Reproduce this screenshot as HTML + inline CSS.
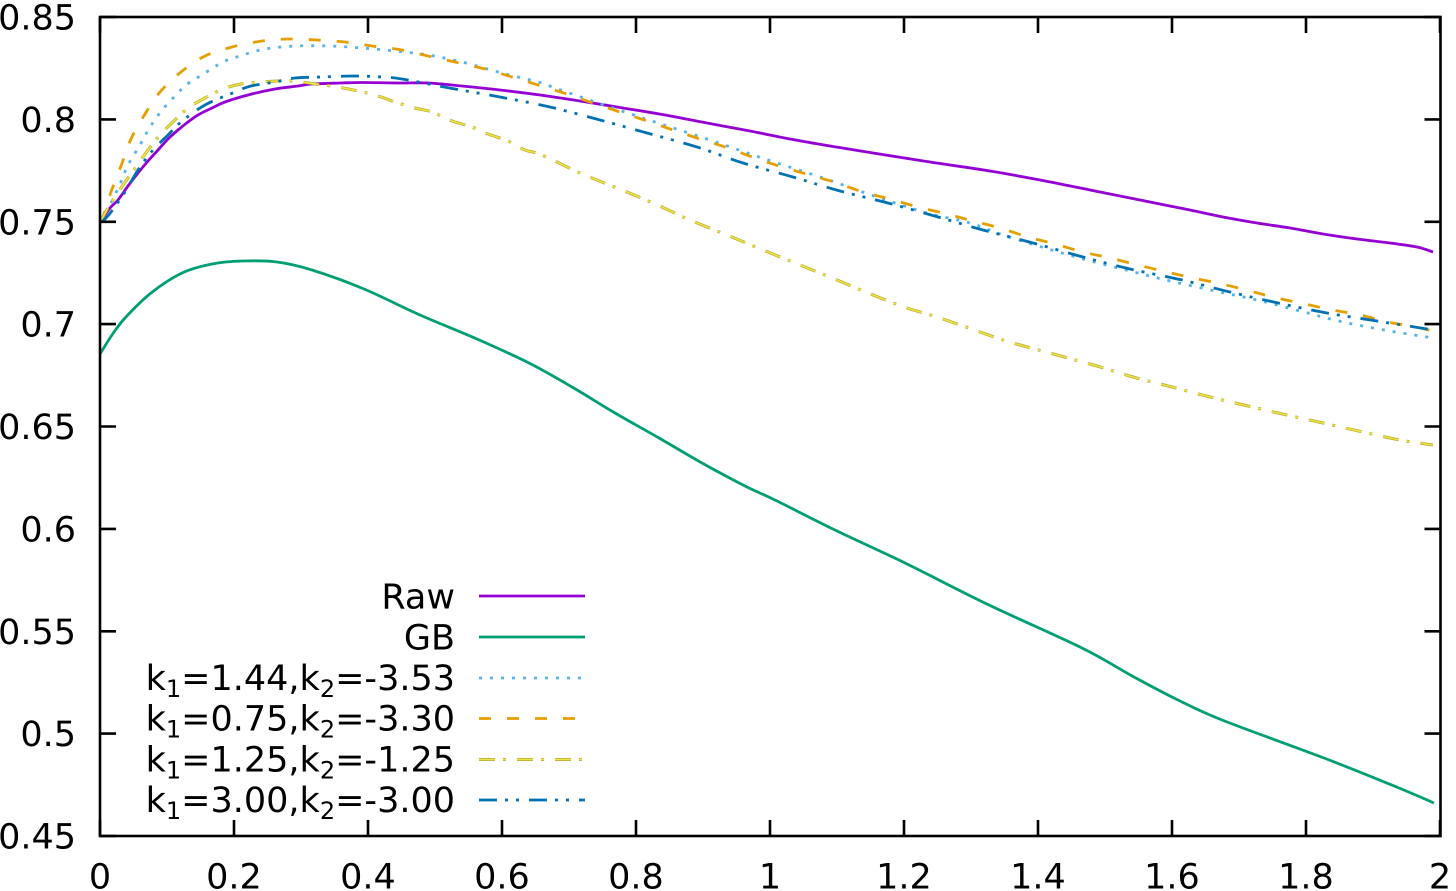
<!DOCTYPE html>
<html><head><meta charset="utf-8"><style>
html,body{margin:0;padding:0;background:#fff;}
svg{display:block;}
text{font-family:"DejaVu Sans","Liberation Sans",sans-serif;fill:#000;}
</style></head><body>
<svg id="chart" width="1456" height="891" viewBox="0 0 1456 891" xmlns="http://www.w3.org/2000/svg">
<rect width="1456" height="891" fill="#fff"/>
<g fill="none" stroke-linejoin="round">
<!-- GB -->
<polyline class="sm" stroke="#009e73" stroke-width="2.8" points="100,354 112,335 125,318 151,293 182,273 212,264 242,261 277,262 312,270 364,289 420,315 477,339 529,363 572,387 615,413 659,438 702,463 745,486 775,500 835,530 905,563 989,605 1082,648 1134,677 1178,700 1222,720 1324,758 1399,788 1434,803"/>
<!-- Raw -->
<polyline class="sm" stroke="#9400d3" stroke-width="2.8" points="100,222 110,208 118,200 128,186 138,173 148,161 158,150 168,139 178,130 188,122 198,115 212,108 225,102 248,95 275,89 298,86 312,84 340,83 362,82.5 400,83 428,83 462,86 500,90 540,95 580,101 623,108 665,115 707,123 750,131 790,139 830,146 873,153 930,162 990,171 1040,180 1090,190 1140,200 1190,210 1223,217 1257,223 1290,228 1323,234 1357,239 1390,243 1417,247 1433,252"/>
<!-- k1=1.44 sky dotted -->
<polyline class="sm" stroke="#56b4e9" stroke-width="2.8" stroke-dasharray="3 8" points="100,222 105,213 111,203 120,184 128,165 140,145 150,127 163,109 178,93 186,85 205,73 223,62 240,56 265,49 297,46 330,46 362,48 395,51 428,55 462,62 502,73 542,83 555,88 607,106 658,123 710,140 762,158 823,178 877,197 927,213 970,223 1003,235 1045,248 1087,260 1130,271 1170,281 1215,291 1257,300 1300,311 1343,322 1390,331 1433,338"/>
<!-- k1=0.75 orange dashed -->
<polyline class="sm" stroke="#e69f00" stroke-width="2.8" stroke-dasharray="12 16" points="100,222 103,217 111,192 121,166 131,139 145,114 160,92 181,72 205,56 232,47 262,41 288,39 317,40 345,42 372,46 402,50 428,56 455,62 485,69 512,77 538,85 567,94 593,103 620,112 647,121 673,130 700,139 728,148 755,158 782,167 810,175 837,183 863,192 890,199 918,207 947,214 973,221 1000,228 1028,237 1055,244 1083,252 1110,258 1138,265 1167,272 1193,278 1222,284 1250,291 1277,298 1305,304 1333,310 1360,315 1388,322 1415,327 1433,331"/>
<!-- k1=1.25 yellow dash-dot -->
<polyline class="sm" stroke="#b5a835" stroke-width="3" stroke-dasharray="16 8 3 11" points="100,222 111,203 123,185 136,167 148,150 160,135 173,122 188,108 205,98 223,89 241,84 260,82 278,81 295,81 315,84 338,87 358,91 378,96 395,102 415,108 432,112 452,121 472,127 488,134 508,141 525,150 542,155 580,173 617,188 653,203 690,220 727,235 763,250 800,265 837,280 873,295 907,308 940,318 1000,339 1020,345 1057,355 1097,366 1133,377 1172,387 1210,397 1248,406 1287,415 1323,423 1363,432 1400,440 1433,445"/>
<polyline class="sm" stroke="#f0e442" stroke-width="1.6" stroke-dasharray="16 8 3 11" points="100,222 111,203 123,185 136,167 148,150 160,135 173,122 188,108 205,98 223,89 241,84 260,82 278,81 295,81 315,84 338,87 358,91 378,96 395,102 415,108 432,112 452,121 472,127 488,134 508,141 525,150 542,155 580,173 617,188 653,203 690,220 727,235 763,250 800,265 837,280 873,295 907,308 940,318 1000,339 1020,345 1057,355 1097,366 1133,377 1172,387 1210,397 1248,406 1287,415 1323,423 1363,432 1400,440 1433,445"/>
<!-- k1=3.00 blue dash-dot-dot -->
<polyline class="sm" stroke="#0072b2" stroke-width="2.8" stroke-dasharray="18 8 3 8 3 10" points="100,222 103,221 111,212 125,192 138,170 153,150 168,135 181,122 205,105 235,92 251,86 275,82 295,78 322,77 352,76 382,77 402,79 455,89 500,97 550,107 600,120 647,133 697,147 743,163 793,177 840,191 888,203 938,217 983,230 1033,243 1083,257 1130,269 1182,280 1230,292 1278,303 1327,313 1377,321 1433,330"/>
</g>
<!-- border & ticks -->
<g stroke="#000" stroke-width="2.6" fill="none">
<rect x="100" y="17" width="1340.5" height="819"/>
<path d="M100,17h16M100,119.4h16M100,221.8h16M100,324.1h16M100,426.5h16M100,528.9h16M100,631.3h16M100,733.6h16M100,836h16
M1440.5,17h-16M1440.5,119.4h-16M1440.5,221.8h-16M1440.5,324.1h-16M1440.5,426.5h-16M1440.5,528.9h-16M1440.5,631.3h-16M1440.5,733.6h-16M1440.5,836h-16
M100,836v-16M234,836v-16M368,836v-16M502,836v-16M636,836v-16M770,836v-16M904,836v-16M1038,836v-16M1172,836v-16M1306,836v-16M1440,836v-16
M100,17v16M234,17v16M368,17v16M502,17v16M636,17v16M770,17v16M904,17v16M1038,17v16M1172,17v16M1306,17v16M1440,17v16"/>
</g>
<g font-size="35" text-anchor="end">
<text x="76" y="29.5">0.85</text>
<text x="76" y="131.9">0.8</text>
<text x="76" y="234.3">0.75</text>
<text x="76" y="336.6">0.7</text>
<text x="76" y="439">0.65</text>
<text x="76" y="541.4">0.6</text>
<text x="76" y="643.8">0.55</text>
<text x="76" y="746.1">0.5</text>
<text x="76" y="848.5">0.45</text>
</g>
<g font-size="35" text-anchor="middle">
<text x="100" y="888.5">0</text>
<text x="234" y="888.5">0.2</text>
<text x="368" y="888.5">0.4</text>
<text x="502" y="888.5">0.6</text>
<text x="636" y="888.5">0.8</text>
<text x="770" y="888.5">1</text>
<text x="904" y="888.5">1.2</text>
<text x="1038" y="888.5">1.4</text>
<text x="1172" y="888.5">1.6</text>
<text x="1306" y="888.5">1.8</text>
<text x="1440" y="888.5">2</text>
</g>
<!-- legend -->
<g font-size="35" text-anchor="end">
<text x="455" y="608.5">Raw</text>
<text x="455" y="649.5">GB</text>
<text x="455" y="690">k<tspan font-size="24" dy="7">1</tspan><tspan dy="-7">=1.44,k</tspan><tspan font-size="24" dy="7">2</tspan><tspan dy="-7">=-3.53</tspan></text>
<text x="455" y="730.5">k<tspan font-size="24" dy="7">1</tspan><tspan dy="-7">=0.75,k</tspan><tspan font-size="24" dy="7">2</tspan><tspan dy="-7">=-3.30</tspan></text>
<text x="455" y="771.5">k<tspan font-size="24" dy="7">1</tspan><tspan dy="-7">=1.25,k</tspan><tspan font-size="24" dy="7">2</tspan><tspan dy="-7">=-1.25</tspan></text>
<text x="455" y="812">k<tspan font-size="24" dy="7">1</tspan><tspan dy="-7">=3.00,k</tspan><tspan font-size="24" dy="7">2</tspan><tspan dy="-7">=-3.00</tspan></text>
</g>
<g fill="none">
<line x1="479" y1="596" x2="585" y2="596" stroke="#9400d3" stroke-width="2.8"/>
<line x1="479" y1="637" x2="585" y2="637" stroke="#009e73" stroke-width="2.8"/>
<line x1="479" y1="678" x2="585" y2="678" stroke="#56b4e9" stroke-width="2.8" stroke-dasharray="3 8"/>
<line x1="479" y1="718.5" x2="585" y2="718.5" stroke="#e69f00" stroke-width="2.8" stroke-dasharray="12 16"/>
<line x1="479" y1="759.5" x2="585" y2="759.5" stroke="#b5a835" stroke-width="3" stroke-dasharray="16 8 3 11"/>
<line x1="479" y1="759.5" x2="585" y2="759.5" stroke="#f0e442" stroke-width="1.6" stroke-dasharray="16 8 3 11"/>
<line x1="479" y1="800" x2="585" y2="800" stroke="#0072b2" stroke-width="2.8" stroke-dasharray="18 8 3 8 3 10"/>
</g>
</svg>
<script>
(function(){
  try{
    var NS="http://www.w3.org/2000/svg";
    var pls=document.querySelectorAll("polyline.sm");
    for(var i=0;i<pls.length;i++){
      var pl=pls[i];
      var raw=pl.getAttribute("points").trim().split(/\s+/);
      var p=[];
      for(var j=0;j<raw.length;j++){var xy=raw[j].split(",");p.push([parseFloat(xy[0]),parseFloat(xy[1])]);}
      if(p.length<3)continue;
      var d="M"+p[0][0]+","+p[0][1];
      for(var k=0;k<p.length-1;k++){
        var p0=p[k>0?k-1:0],p1=p[k],p2=p[k+1],p3=p[k+2<p.length?k+2:p.length-1];
        var c1x=p1[0]+(p2[0]-p0[0])/6,c1y=p1[1]+(p2[1]-p0[1])/6;
        var c2x=p2[0]-(p3[0]-p1[0])/6,c2y=p2[1]-(p3[1]-p1[1])/6;
        d+=" C"+c1x.toFixed(2)+","+c1y.toFixed(2)+" "+c2x.toFixed(2)+","+c2y.toFixed(2)+" "+p2[0]+","+p2[1];
      }
      var path=document.createElementNS(NS,"path");
      var attrs=["stroke","stroke-width","stroke-dasharray"];
      for(var a=0;a<attrs.length;a++){var v=pl.getAttribute(attrs[a]);if(v)path.setAttribute(attrs[a],v);}
      path.setAttribute("fill","none");
      path.setAttribute("d",d);
      pl.parentNode.replaceChild(path,pl);
    }
  }catch(e){}
})();
</script>
</body></html>
